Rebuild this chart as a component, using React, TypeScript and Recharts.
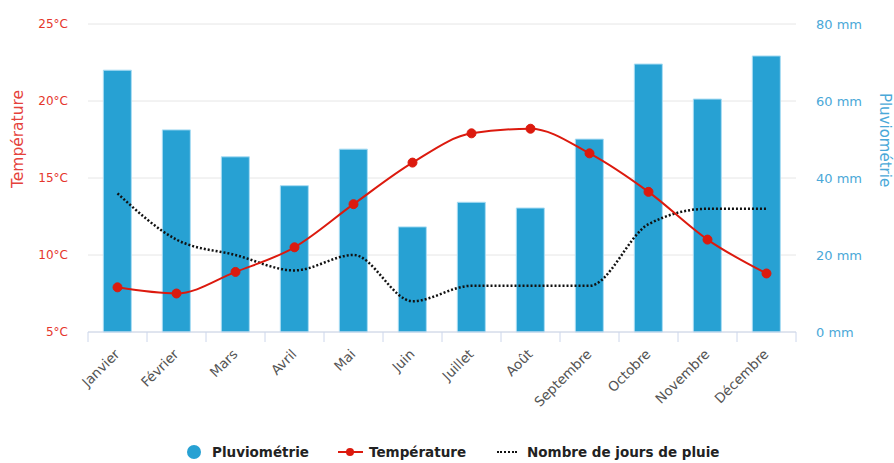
import React from "react";
import {
  Bar,
  CartesianGrid,
  ComposedChart,
  Line,
  XAxis,
  YAxis,
} from "recharts";

const months = [
  "Janvier",
  "Février",
  "Mars",
  "Avril",
  "Mai",
  "Juin",
  "Juillet",
  "Août",
  "Septembre",
  "Octobre",
  "Novembre",
  "Décembre",
];
const rainfall = [68, 52.5, 45.5, 38, 47.5, 27.3, 33.7, 32.2, 50.1, 69.6, 60.5, 71.7];
const temperature = [7.9, 7.5, 8.9, 10.5, 13.3, 16.0, 17.9, 18.2, 16.6, 14.1, 11.0, 8.8];
const rainyDays = [9, 6, 5, 4, 5, 2, 3, 3, 3, 7, 8, 8];

const tempTicks = [5, 10, 15, 20, 25];
const rainTicks = [0, 20, 40, 60, 80];

const BLUE = "#27a1d3";
const RED = "#dc1a0e";
const FONT = "'DejaVu Sans', sans-serif";

const data = months.map((month, i) => ({
  month,
  rain: rainfall[i],
  temp: temperature[i],
  days: rainyDays[i],
}));

function MonthTick({ x, y, payload, index }: any) {
  const half = payload?.offset ?? 29.5;
  const tx = x + 3;
  const ty = y + 23;
  return (
    <g>
      <line x1={x - half} x2={x - half} y1={y} y2={y + 10} stroke="#ccd6eb" />
      {index === months.length - 1 && (
        <line x1={x + half} x2={x + half} y1={y} y2={y + 10} stroke="#ccd6eb" />
      )}
      <text
        x={tx}
        y={ty}
        transform={`rotate(-45, ${tx}, ${ty})`}
        textAnchor="end"
        fill="#555"
        fontSize={13.5}
        fontFamily={FONT}
      >
        {payload.value}
      </text>
    </g>
  );
}

const legendText: React.CSSProperties = {
  position: "absolute",
  top: 444,
  fontFamily: FONT,
  fontWeight: "bold",
  fontSize: 13.5,
  color: "#222",
  lineHeight: "16px",
  whiteSpace: "nowrap",
};

export default function App() {
  return (
    <div
      style={{
        position: "fixed",
        left: 0,
        top: 0,
        width: 894,
        height: 463,
        overflow: "hidden",
        background: "#fff",
      }}
    >
      <ComposedChart
        width={894}
        height={463}
        data={data}
        margin={{ top: 24, right: 0, bottom: 0, left: 0 }}
        barCategoryGap="26%"
      >
        <CartesianGrid yAxisId="temp" vertical={false} stroke="#e6e6e6" />
        <XAxis
          dataKey="month"
          interval={0}
          height={131}
          axisLine={{ stroke: "#ccd6eb" }}
          tickLine={false}
          tickSize={0}
          tickMargin={0}
          tick={<MonthTick />}
        />
        <YAxis
          yAxisId="temp"
          width={88}
          domain={[5, 25]}
          ticks={tempTicks}
          axisLine={false}
          tickLine={false}
          tickMargin={14}
          tickFormatter={(v) => `${v}°C`}
          tick={{ fill: "#e5352b", fontSize: 12, fontFamily: FONT }}
        />
        <YAxis
          yAxisId="rain"
          orientation="right"
          width={98}
          domain={[0, 80]}
          ticks={rainTicks}
          axisLine={false}
          tickLine={false}
          tickMargin={14}
          tickFormatter={(v) => `${v} mm`}
          tick={{ fill: "#4aa8d8", fontSize: 13, fontFamily: FONT }}
        />
        <YAxis yAxisId="days" hide width={0} orientation="right" domain={[0, 20]} />
        <Bar
          yAxisId="rain"
          dataKey="rain"
          fill={BLUE}
          stroke="#a9dcf3"
          strokeWidth={1}
          isAnimationActive={false}
        />
        <Line
          yAxisId="days"
          dataKey="days"
          type="monotone"
          stroke="#111"
          strokeWidth={2.5}
          strokeDasharray="2 2"
          dot={false}
          isAnimationActive={false}
        />
        <Line
          yAxisId="temp"
          dataKey="temp"
          type="monotone"
          stroke={RED}
          strokeWidth={2}
          dot={{ r: 4.5, fill: RED, stroke: RED, strokeWidth: 1 }}
          isAnimationActive={false}
        />
      </ComposedChart>

      <div
        style={{
          position: "absolute",
          left: 18,
          top: 139,
          transform: "translate(-50%, -50%) rotate(-90deg)",
          fontFamily: FONT,
          fontSize: 15.5,
          color: "#e5423b",
          whiteSpace: "nowrap",
        }}
      >
        Température
      </div>
      <div
        style={{
          position: "absolute",
          left: 885,
          top: 140,
          transform: "translate(-50%, -50%) rotate(90deg)",
          fontFamily: FONT,
          fontSize: 15,
          color: "#4aa8d8",
          whiteSpace: "nowrap",
        }}
      >
        Pluviométrie
      </div>

      <div
        style={{
          position: "absolute",
          left: 187,
          top: 445,
          width: 14,
          height: 14,
          borderRadius: "50%",
          background: BLUE,
        }}
      />
      <span style={{ ...legendText, left: 212 }}>Pluviométrie</span>
      <div
        style={{
          position: "absolute",
          left: 338,
          top: 451,
          width: 25,
          height: 2,
          background: RED,
        }}
      />
      <div
        style={{
          position: "absolute",
          left: 346,
          top: 448,
          width: 8,
          height: 8,
          borderRadius: "50%",
          background: RED,
        }}
      />
      <span style={{ ...legendText, left: 369 }}>Température</span>
      <div
        style={{
          position: "absolute",
          left: 497,
          top: 451,
          width: 20,
          height: 0,
          borderTop: "2px dotted #111",
        }}
      />
      <span style={{ ...legendText, left: 527 }}>Nombre de jours de pluie</span>
    </div>
  );
}
